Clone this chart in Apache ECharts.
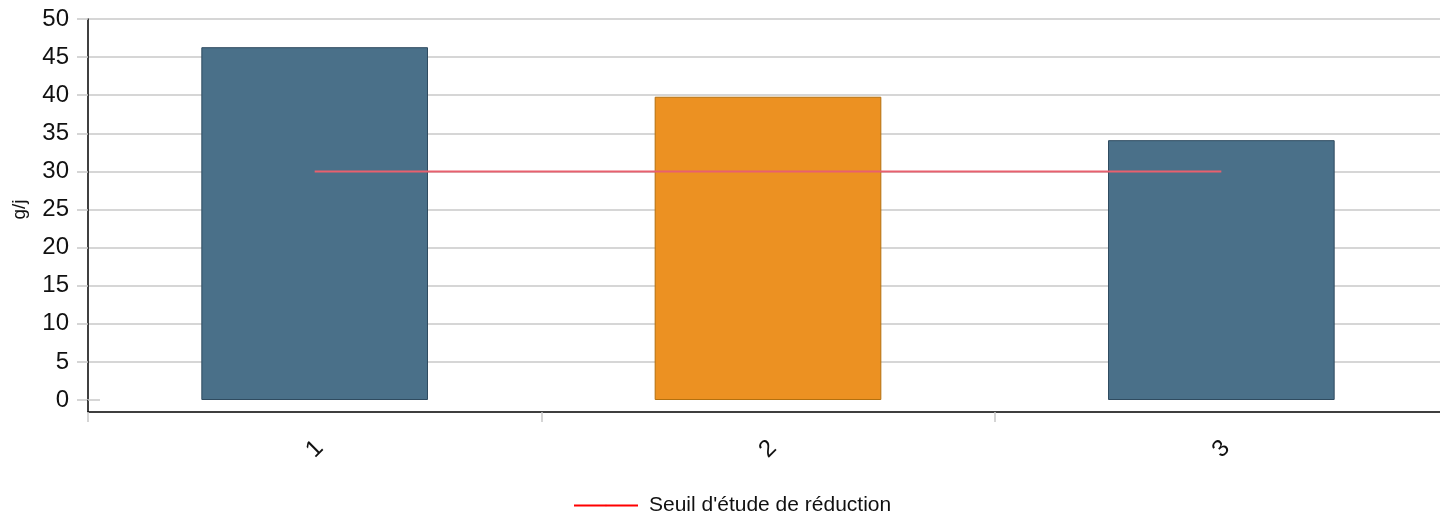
<!DOCTYPE html>
<html><head><meta charset="utf-8">
<script src="https://cdn.jsdelivr.net/npm/echarts@6/dist/echarts.min.js"></script>
<style>html,body{margin:0;padding:0;background:#fff}#c{width:1440px;height:511px}</style>
</head><body><div id="c"></div>
<script>
const categories = ['1', '2', '3'];
const values = [46.3, 39.8, 34.1];
const barColors = ['#4a7089', '#ec9122', '#4a7089'];
const barBorders = ['#2f4b60', '#b3700f', '#2f4b60'];
const threshold = [30, 30, 30];
const seriesName = "Seuil d'étude de réduction";
const yAxisName = 'g/j';

const chart = echarts.init(document.getElementById('c'), null, {renderer: 'canvas'});
const font = 'Liberation Sans, Arial, sans-serif';
chart.setOption({
  animation: false,
  textStyle: {fontFamily: font},
  grid: {left: 88, width: 1360, top: 19, bottom: 111, containLabel: false, outerBoundsMode: 'none'},
  legend: {
    left: 568, top: 490, itemWidth: 64, itemHeight: 2, itemGap: 10,
    textStyle: {fontSize: 21, color: '#111', fontFamily: font, padding: [0, 0, 0, 6]},
    data: [{name: seriesName, lineStyle: {color: '#ff0000', width: 2}, itemStyle: {color: '#ff0000'}}]
  },
  xAxis: {
    type: 'category', data: categories, offset: 12,
    axisLine: {onZero: false, lineStyle: {color: '#000', width: 1.5}},
    axisTick: {show: true, length: 10, lineStyle: {color: '#c8c8c8', width: 1.5}},
    axisLabel: {rotate: 45, fontSize: 24, color: '#111', margin: 37, align: 'center', verticalAlign: 'middle', fontFamily: font},
    splitLine: {show: false}
  },
  yAxis: {
    type: 'value', min: 0, max: 50, interval: 5,
    name: yAxisName, nameLocation: 'middle', nameGap: 59, nameRotate: 90,
    nameTextStyle: {fontSize: 19, color: '#111', fontFamily: font},
    axisLine: {show: true, lineStyle: {color: '#000', width: 1.5}},
    axisTick: {show: true, length: 11, lineStyle: {color: '#c8c8c8', width: 1.5}},
    axisLabel: {fontSize: 24, color: '#111', margin: 19, fontFamily: font},
    splitLine: {show: true, lineStyle: {color: ['rgba(0,0,0,0)'].concat(Array(10).fill('#c8c8c8')), width: 1.5}}
  },
  series: [
    {
      type: 'bar', barWidth: '50%',
      data: values.map((v, i) => ({value: v, itemStyle: {color: barColors[i], borderColor: barBorders[i], borderWidth: 1}})),
      z: 2
    },
    {
      type: 'line', name: seriesName, data: threshold, symbol: 'none',
      lineStyle: {color: '#e8606e', width: 2}, itemStyle: {color: '#e8606e'}, z: 3
    }
  ]
});
// extend y-axis line down to offset x-axis, and short gridline tick at 0
const p0 = chart.convertToPixel({gridIndex: 0}, [0, 0]);
const gx = 88;
chart.setOption({graphic: [
  {type: 'line', shape: {x1: gx, y1: p0[1], x2: gx, y2: p0[1] + 12}, style: {stroke: '#000', lineWidth: 1.5}, z: 10},
  {type: 'line', shape: {x1: gx, y1: p0[1], x2: gx + 12, y2: p0[1]}, style: {stroke: '#c8c8c8', lineWidth: 1.5}, z: 10}
]});
</script></body></html>
